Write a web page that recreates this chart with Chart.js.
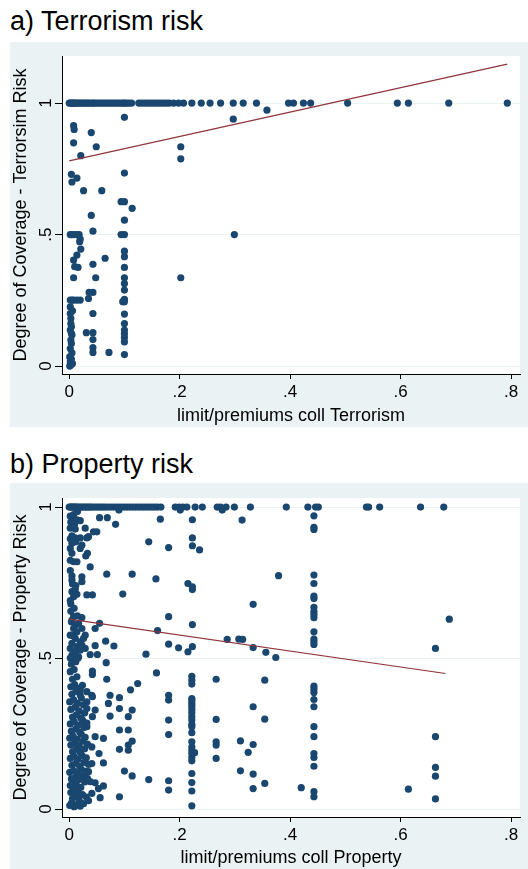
<!DOCTYPE html>
<html>
<head>
<meta charset="utf-8">
<script src="https://cdn.jsdelivr.net/npm/chart.js@4.4.1/dist/chart.umd.min.js"></script>
<style>
body { margin: 0; width: 528px; height: 869px; background: #fff; position: relative; overflow: hidden;
       font-family: "Liberation Sans", Arial, sans-serif; }
.title { position: absolute; left: 10px; font-size: 27px; line-height: 27px; color: #000; white-space: nowrap; }
.panel { position: absolute; left: 10px; width: 518px; background: #eaf2f3; }
</style>
</head>
<body>
<div class="title" style="top:8px">a) Terrorism risk</div>
<div class="panel" style="top:42px;height:385px"><canvas id="terr-chart"></canvas></div>
<div class="title" style="top:451px">b) Property risk</div>
<div class="panel" style="top:483px;height:386px"><canvas id="prop-chart"></canvas></div>
<script>
const xTicks = [0, 0.2, 0.4, 0.6, 0.8]
const yTicks = [0, 0.5, 1]

// ---- a) Terrorism ----
// points sitting on y = 1
const terrTopX = [0, 0.002, 0.004, 0.006, 0.008, 0.01, 0.012, 0.015, 0.018, 0.021, 0.024, 0.027, 0.03, 0.033,
    0.036, 0.04, 0.043, 0.046, 0.05, 0.054, 0.058, 0.062, 0.066, 0.07, 0.074, 0.078, 0.082, 0.086, 0.09, 0.094,
    0.098, 0.1, 0.104, 0.108, 0.113, 0.126, 0.131, 0.136, 0.141, 0.146, 0.151, 0.156, 0.161, 0.166, 0.171, 0.176,
    0.181, 0.189, 0.198, 0.207, 0.222, 0.239, 0.255, 0.274, 0.297, 0.315, 0.339, 0.397, 0.406, 0.424, 0.437,
    0.504, 0.594, 0.614, 0.687, 0.793]
// column at limit = .1
const terrColX = 0.1
const terrColY = [0.437, 0.416, 0.375, 0.336, 0.314, 0.289, 0.254, 0.245, 0.198, 0.162, 0.137, 0.124, 0.109, 0.092, 0.044]
// the rest
const terrX = [
    0.1, 0.297, 0.358, 0.008, 0.009,
    0.04, 0.008, 0.049, 0.202, 0.202,
    0.021, 0.004, 0.005, 0.014, 0.1,
    0.026, 0.059, 0.094, 0.1, 0.114,
    0.04, 0.1, 0.043, 0.002, 0.005,
    0.009, 0.014, 0.018, 0.094, 0.1,
    0.299, 0.02, 0.019, 0.021, 0.014,
    0.008, 0.01, 0.016, 0.043, 0.065,
    0.097, 0.008, 0.048, 0.202, 0.002,
    0.005, 0.008, 0.014, 0.02, 0.036,
    0.043, 0.035, 0.002, 0.002, 0.003,
    0.003, 0.002, 0.004, 0.005, 0.003,
    0.004, 0.002, 0.005, 0.001, 0.004,
    0.002, 0.006, 0.003, 0.001, 0.006,
    0.004, 0.043, 0.031, 0.043, 0.043,
    0.043, 0.043, 0.072]
const terrY = [
    0.946, 0.939, 0.973, 0.914, 0.9,
    0.888, 0.849, 0.834, 0.834, 0.788,
    0.8, 0.729, 0.7, 0.715, 0.734,
    0.667, 0.667, 0.625, 0.625, 0.6,
    0.573, 0.555, 0.513, 0.5, 0.5,
    0.5, 0.5, 0.5, 0.5, 0.5,
    0.5, 0.483, 0.473, 0.445, 0.422,
    0.403, 0.378, 0.375, 0.387, 0.41,
    0.245, 0.336, 0.336, 0.336, 0.251,
    0.251, 0.251, 0.251, 0.251, 0.28,
    0.28, 0.257, 0.225, 0.2, 0.181,
    0.162, 0.137, 0.125, 0.118, 0.099,
    0.086, 0.067, 0.05, 0.035, 0.027,
    0.016, 0.01, 0.004, 0.0, 0.21,
    0.15, 0.2, 0.127, 0.127, 0.101,
    0.07, 0.052, 0.052]
const terrFitX = [0, 0.793]
const terrFitY = [0.78, 1.148]

// ---- b) Property ----
const propTopX = [0, 0.002, 0.004, 0.006, 0.008, 0.01, 0.012, 0.014, 0.017, 0.02, 0.023, 0.026, 0.029, 0.032,
    0.035, 0.038, 0.041, 0.045, 0.049, 0.053, 0.057, 0.061, 0.065, 0.07, 0.075, 0.08, 0.085, 0.09, 0.095, 0.1,
    0.105, 0.11, 0.115, 0.12, 0.125, 0.13, 0.135, 0.14, 0.145, 0.15, 0.155, 0.16, 0.166, 0.192, 0.199, 0.206,
    0.213, 0.228, 0.241, 0.268, 0.274, 0.284, 0.299, 0.328, 0.393, 0.432, 0.446, 0.451, 0.538, 0.542, 0.562,
    0.636, 0.678]
// columns at .22 and .44
const propCol22X = 0.222
const propCol22Y = [0.44, 0.427, 0.414, 0.366, 0.359, 0.35, 0.341, 0.33, 0.319, 0.306, 0.295, 0.281, 0.273,
    0.253, 0.223, 0.206, 0.195, 0.184, 0.171, 0.16, 0.118, 0.088, 0.06, 0.011]
const propCol44X = 0.443
const propCol44Y = [0.971, 0.933, 0.926, 0.775, 0.747, 0.705, 0.697, 0.668, 0.654, 0.645, 0.634, 0.587, 0.563,
    0.554, 0.545, 0.407, 0.397, 0.386, 0.363, 0.339, 0.273, 0.24, 0.184, 0.171, 0.142, 0.058, 0.041]
// upper half, left of .25
const propUpX = [
    0.055, 0.069, 0.084, 0.165, 0.223,
    0.006, 0.014, 0.02, 0.002, 0.011,
    0.005, 0.011, 0.002, 0.029, 0.035,
    0.044, 0.05, 0.032, 0.02, 0.144,
    0.18, 0.223, 0.223, 0.236, 0.002,
    0.005, 0.002, 0.008, 0.014, 0.023,
    0.02, 0.033, 0.03, 0.038, 0.005,
    0.023, 0.005, 0.023, 0.068, 0.114,
    0.157, 0.215, 0.223, 0.223, 0.005,
    0.011, 0.014, 0.008, 0.003, 0.032,
    0.042, 0.097, 0.008, 0.023, 0.18,
    0.223, 0.055, 0.047, 0.16, 0.18,
    0.198, 0.215, 0.223, 0.066, 0.081,
    0.047, 0.038, 0.051, 0.139, 0.005,
    0.011, 0.017, 0.008, 0.014, 0.023,
    0.029, 0.002, 0.011, 0.02, 0.026,
    0.005, 0.014, 0.023, 0.002, 0.011,
    0.02, 0.029, 0.005, 0.017, 0.002,
    0.008, 0.003, 0.01, 0.005, 0.012,
    0.002, 0.006, 0.012, 0.002, 0.009,
    0.003, 0.004, 0.015, 0.006, 0.09,
    0.201, 0.277, 0.015]
const propUpY = [
    0.965, 0.965, 0.943, 0.96, 0.958,
    0.962, 0.958, 0.955, 0.93, 0.927,
    0.905, 0.898, 0.895, 0.93, 0.902,
    0.918, 0.918, 0.898, 0.898, 0.885,
    0.866, 0.898, 0.872, 0.858, 0.863,
    0.847, 0.824, 0.819, 0.819, 0.874,
    0.863, 0.847, 0.838, 0.802, 0.772,
    0.769, 0.758, 0.753, 0.778, 0.778,
    0.762, 0.747, 0.736, 0.727, 0.72,
    0.727, 0.711, 0.703, 0.679, 0.709,
    0.709, 0.712, 0.637, 0.634, 0.637,
    0.611, 0.615, 0.598, 0.591, 0.546,
    0.534, 0.521, 0.538, 0.556, 0.54,
    0.541, 0.512, 0.512, 0.513, 0.626,
    0.609, 0.615, 0.598, 0.587, 0.598,
    0.576, 0.576, 0.565, 0.554, 0.565,
    0.549, 0.538, 0.543, 0.532, 0.521,
    0.526, 0.532, 0.51, 0.504, 0.97,
    0.975, 0.95, 0.945, 0.88, 0.885,
    0.79, 0.745, 0.74, 0.69, 0.665,
    0.655, 0.62, 0.64, 0.575, 0.99,
    0.99, 0.99, 0.985]
// lower half, left of .25, outside the dense clump
const propLowX = [
    0.067, 0.042, 0.042, 0.068, 0.158,
    0.124, 0.111, 0.18, 0.18, 0.02,
    0.032, 0.041, 0.042, 0.074, 0.071,
    0.091, 0.091, 0.032, 0.032, 0.047,
    0.114, 0.074, 0.107, 0.042, 0.18,
    0.026, 0.032, 0.091, 0.107, 0.18,
    0.047, 0.062, 0.114, 0.107, 0.107,
    0.091, 0.041, 0.054, 0.062, 0.041,
    0.035, 0.1, 0.114, 0.144, 0.18,
    0.18, 0.038, 0.047, 0.062, 0.053,
    0.041, 0.056, 0.091, 0.035]
const propLowY = [
    0.485, 0.457, 0.446, 0.43, 0.451,
    0.416, 0.395, 0.377, 0.361, 0.394,
    0.389, 0.377, 0.372, 0.377, 0.35,
    0.369, 0.333, 0.355, 0.333, 0.328,
    0.328, 0.308, 0.306, 0.306, 0.295,
    0.289, 0.273, 0.262, 0.262, 0.247,
    0.24, 0.234, 0.225, 0.212, 0.195,
    0.198, 0.206, 0.184, 0.153, 0.151,
    0.124, 0.126, 0.11, 0.098, 0.094,
    0.063, 0.091, 0.087, 0.077, 0.068,
    0.052, 0.038, 0.041, 0.028]
// dense clump near limit = 0
const propClumpX = [
    0.001, 0.004, 0.009, 0.014, 0.02, 0.026, 0.006, 0.012, 0.018, 0.003,
    0.009, 0.016, 0.024, 0.031, 0.002, 0.007, 0.013, 0.021, 0.028, 0.004,
    0.011, 0.017, 0.025, 0.033, 0.001, 0.008, 0.015, 0.022, 0.03, 0.005,
    0.012, 0.019, 0.027, 0.035, 0.002, 0.009, 0.016, 0.023, 0.031, 0.006,
    0.013, 0.02, 0.028, 0.003, 0.01, 0.018, 0.025, 0.033, 0.001, 0.007,
    0.014, 0.022, 0.029, 0.004, 0.012, 0.019, 0.027, 0.002, 0.009, 0.016,
    0.024, 0.032, 0.006, 0.013, 0.021, 0.028, 0.003, 0.011, 0.018, 0.026,
    0.001, 0.008, 0.015, 0.022, 0.005, 0.012, 0.02, 0.003, 0.01, 0.017,
    0.006, 0.014, 0.002, 0.009, 0.004, 0.012, 0.007, 0.002, 0.016, 0.024]
const propClumpY = [
    0.012, 0.02, 0.008, 0.015, 0.01, 0.018, 0.035, 0.042, 0.03, 0.055,
    0.062, 0.058, 0.048, 0.04, 0.078, 0.085, 0.08, 0.072, 0.09, 0.1,
    0.105, 0.098, 0.11, 0.102, 0.122, 0.128, 0.12, 0.132, 0.125, 0.145,
    0.152, 0.142, 0.155, 0.148, 0.168, 0.175, 0.165, 0.178, 0.17, 0.19,
    0.198, 0.188, 0.2, 0.212, 0.22, 0.21, 0.225, 0.215, 0.235, 0.242,
    0.232, 0.248, 0.238, 0.258, 0.265, 0.255, 0.27, 0.282, 0.29, 0.278,
    0.295, 0.285, 0.305, 0.312, 0.302, 0.318, 0.33, 0.338, 0.325, 0.345,
    0.355, 0.362, 0.35, 0.368, 0.38, 0.39, 0.378, 0.405, 0.412, 0.4,
    0.43, 0.438, 0.455, 0.462, 0.48, 0.488, 0.5, 0.5, 0.5, 0.41]
// right of .25
const propFarX = [
    0.313, 0.379, 0.333, 0.688, 0.286,
    0.307, 0.314, 0.333, 0.356, 0.374,
    0.663, 0.266, 0.354, 0.333, 0.266,
    0.354, 0.663, 0.266, 0.266, 0.31,
    0.333, 0.324, 0.266, 0.663, 0.663,
    0.31, 0.333, 0.333, 0.354, 0.42,
    0.614, 0.663, 0.227]
const propFarY = [
    0.957, 0.773, 0.678, 0.629, 0.562,
    0.563, 0.562, 0.535, 0.519, 0.502,
    0.532, 0.43, 0.427, 0.339, 0.297,
    0.298, 0.24, 0.223, 0.212, 0.226,
    0.214, 0.188, 0.168, 0.138, 0.109,
    0.127, 0.116, 0.068, 0.085, 0.071,
    0.066, 0.034, 0.187]
const propFitX = [0, 0.681]
const propFitY = [0.629, 0.449]

const navy = "#1a476f"
const maroon = "#90353b"
const gridColor = "#eaf2f3"

Chart.defaults.font.family = '"Liberation Sans", Arial, sans-serif'
Chart.defaults.color = "#000"

function pairs(xs, ys) { return xs.map((x, i) => ({x: x, y: ys[i]})) }
function column(x, ys) { return ys.map(y => ({x: x, y: y})) }
function onOne(xs) { return xs.map(x => ({x: x, y: 1})) }
function tickText(v) { return v === 0 ? "0" : String(v).replace(/^0\./, ".") }

// white plot region + rotated y tick labels (Stata look)
const stataLook = {
    id: "stataLook",
    beforeDraw(chart) {
        const {ctx, chartArea: a} = chart
        ctx.save()
        ctx.fillStyle = "#fff"
        ctx.fillRect(a.left, a.top, a.right - a.left, a.bottom - a.top)
        ctx.restore()
    },
    afterDraw(chart) {
        const {ctx} = chart
        const ys = chart.scales.y
        ctx.save()
        ctx.font = '17px "Liberation Sans", Arial, sans-serif'
        ctx.fillStyle = "#000"
        ctx.textAlign = "center"
        ctx.textBaseline = "middle"
        ys.ticks.forEach(t => {
            ctx.save()
            ctx.translate(36, ys.getPixelForValue(t.value))
            ctx.rotate(-Math.PI / 2)
            ctx.fillText(tickText(t.value), 0, 0)
            ctx.restore()
        })
        ctx.restore()
    }
}

function makeChart(el, points, fitX, fitY, yMin, yMax, padTop, xAxisH, xTitle, yTitle) {
    return new Chart(el, {
        type: "scatter",
        data: {
            datasets: [{
                type: "line",
                data: pairs(fitX, fitY),
                borderColor: maroon,
                borderWidth: 1.2,
                pointRadius: 0,
                fill: false},
                {
                data: points,
                backgroundColor: navy,
                borderColor: navy,
                borderWidth: 0,
                pointRadius: 3.6}
            ]},
        options: {
            responsive: true,
            maintainAspectRatio: false,
            animation: false,
            layout: {padding: {top: padTop, right: 8, left: 0, bottom: 0}},
            plugins: {legend: {display: false}, tooltip: {enabled: false}},
            scales: {
                x: {
                    type: "linear",
                    min: -0.013,
                    max: 0.816,
                    afterBuildTicks: s => { s.ticks = xTicks.map(v => ({value: v})) },
                    afterFit: s => { s.height = xAxisH },
                    ticks: {callback: v => tickText(v), font: {size: 17}, padding: 3, maxRotation: 0, autoSkip: false},
                    grid: {drawOnChartArea: false, tickLength: 5, tickColor: "#000"},
                    border: {color: "#000", width: 1},
                    title: {display: true, text: xTitle, font: {size: 18}, padding: {top: 0, bottom: 0}}
                },
                y: {
                    min: yMin,
                    max: yMax,
                    afterBuildTicks: s => { s.ticks = yTicks.map(v => ({value: v})) },
                    afterFit: s => { s.width = 52 },
                    ticks: {display: false},
                    grid: {color: gridColor, lineWidth: 1, tickLength: 7, tickColor: "#000"},
                    border: {color: "#000", width: 1},
                    title: {display: true, text: yTitle, font: {size: 18}, padding: 0}
                }
            }
        },
        plugins: [stataLook]
    })
}

const terrPoints = onOne(terrTopX).concat(column(terrColX, terrColY), pairs(terrX, terrY))
const propPoints = onOne(propTopX).concat(
    column(propCol22X, propCol22Y), column(propCol44X, propCol44Y),
    pairs(propUpX, propUpY), pairs(propLowX, propLowY),
    pairs(propClumpX, propClumpY), pairs(propFarX, propFarY))

makeChart(document.getElementById("terr-chart"), terrPoints, terrFitX, terrFitY, -0.03, 1.179, 14, 53,
    "limit/premiums coll Terrorism", "Degree of Coverage - Terrorsim Risk")
makeChart(document.getElementById("prop-chart"), propPoints, propFitX, propFitY, -0.026, 1.03, 15, 52,
    "limit/premiums coll Property", "Degree of Coverage - Property Risk")
</script>
</body>
</html>
